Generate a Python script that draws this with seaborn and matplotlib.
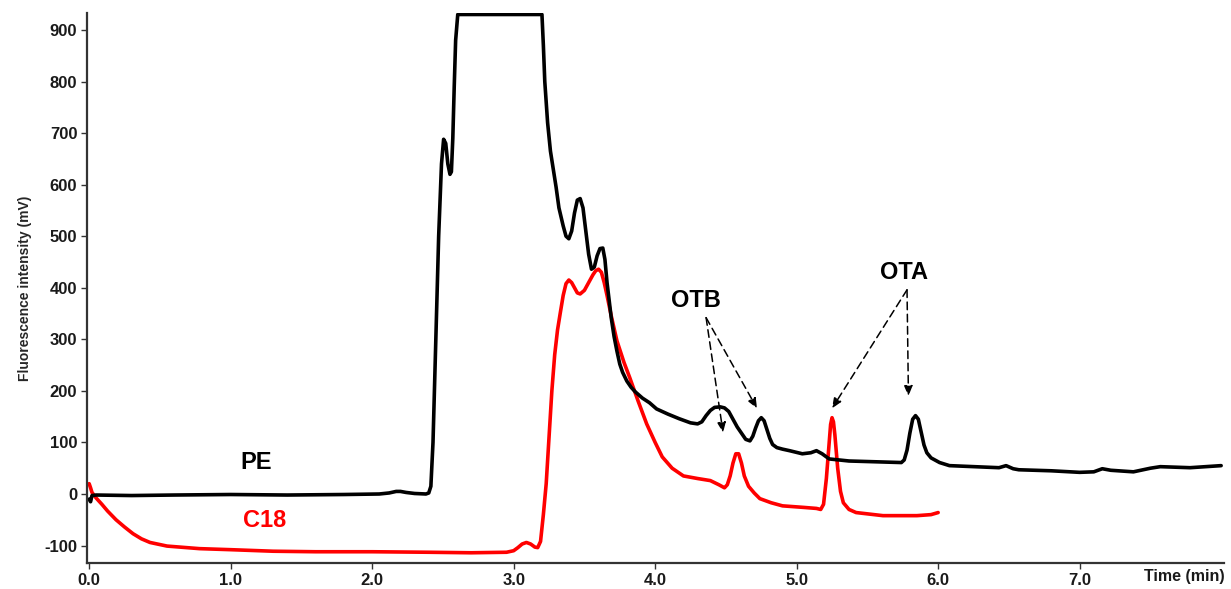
import numpy as np
import pandas as pd
import matplotlib
matplotlib.use("Agg")
import matplotlib.pyplot as plt
import seaborn as sns

# PE trace (black)
pe_time = [0.00, 0.01, 0.02, 0.05, 0.30, 0.60, 1.00, 1.40, 1.80, 2.05, 2.12, 2.17, 2.20, 2.24,
           2.30, 2.38, 2.40, 2.415, 2.43, 2.45, 2.47, 2.49, 2.505, 2.52, 2.535, 2.55, 2.56,
           2.57, 2.58, 2.59, 2.605, 3.20, 3.21, 3.22, 3.24, 3.26, 3.28, 3.30, 3.32, 3.35,
           3.37, 3.39, 3.41, 3.43, 3.45, 3.47, 3.49, 3.51, 3.53, 3.55, 3.57, 3.59, 3.61,
           3.63, 3.645, 3.66, 3.69, 3.71, 3.73, 3.75, 3.77, 3.80, 3.83, 3.86, 3.91, 3.96,
           4.01, 4.09, 4.17, 4.25, 4.30, 4.33, 4.36, 4.39, 4.42, 4.46, 4.49, 4.52, 4.55,
           4.58, 4.61, 4.64, 4.67, 4.69, 4.71, 4.73, 4.75, 4.77, 4.79, 4.81, 4.83, 4.86,
           4.90, 4.95, 5.04, 5.10, 5.14, 5.18, 5.23, 5.30, 5.37, 5.50, 5.62, 5.74, 5.76,
           5.78, 5.80, 5.82, 5.84, 5.86, 5.88, 5.90, 5.92, 5.95, 6.01, 6.08, 6.25, 6.43,
           6.48, 6.53, 6.57, 6.80, 7.00, 7.10, 7.16, 7.22, 7.38, 7.50, 7.57, 7.78, 8.00]
pe_signal = [-10, -15, -3, -2, -3, -2, -1, -2, -1, 0, 2, 5, 5, 3,
             1, 0, 2, 15, 100, 300, 500, 640, 688, 680, 640, 620, 625,
             690, 790, 880, 930, 930, 870, 800, 720, 665, 630, 595, 555, 520,
             500, 495, 510, 545, 570, 573, 555, 510, 465, 436, 440, 462, 476,
             477, 455, 410, 341, 305, 277, 252, 236, 219, 207, 198, 186, 177,
             165, 155, 146, 138, 136, 140, 152, 162, 168, 169, 167, 160, 145,
             130, 118, 106, 103, 112, 128, 142, 148, 142, 125, 108, 96, 90,
             87, 84, 78, 80, 84, 78, 68, 66, 64, 63, 62, 61, 66,
             85, 118, 145, 152, 145, 120, 95, 80, 70, 61, 55, 53, 51,
             55, 49, 47, 45, 42, 43, 49, 46, 43, 50, 53, 51, 55]

# C18 trace (red)
c18_time = [0.00, 0.01, 0.02, 0.05, 0.09, 0.13, 0.19, 0.25, 0.31, 0.37, 0.43, 0.55, 0.78,
            1.00, 1.30, 1.60, 2.00, 2.40, 2.70, 2.95, 3.00, 3.03, 3.06, 3.09, 3.12, 3.15,
            3.17, 3.19, 3.21, 3.23, 3.25, 3.27, 3.29, 3.31, 3.33, 3.35, 3.37, 3.39, 3.41,
            3.43, 3.45, 3.47, 3.50, 3.53, 3.56, 3.58, 3.60, 3.62, 3.64, 3.66, 3.69, 3.73,
            3.78, 3.82, 3.88, 3.94, 4.00, 4.05, 4.12, 4.20, 4.30, 4.39, 4.45, 4.49, 4.51,
            4.53, 4.55, 4.57, 4.59, 4.61, 4.63, 4.66, 4.70, 4.74, 4.82, 4.90, 5.05, 5.14,
            5.17, 5.19, 5.21, 5.23, 5.24, 5.25, 5.26, 5.27, 5.29, 5.31, 5.33, 5.37, 5.42,
            5.61, 5.85, 5.95, 6.00]
c18_signal = [20, 12, 3, -8, -20, -33, -50, -64, -77, -87, -94, -101, -106,
              -108, -111, -112, -112, -113, -114, -113, -110, -104, -97, -94, -97, -103,
              -104, -92, -40, 20, 110, 200, 270, 318, 352, 385, 408, 415, 410,
              400, 390, 388, 395, 410, 425, 433, 436, 430, 410, 385, 345, 297,
              255, 226, 180, 136, 100, 72, 50, 35, 30, 26, 18, 12, 18,
              35, 60, 78, 78, 60, 35, 15, 2, -9, -17, -23, -26, -28,
              -30, -20, 30, 100, 135, 148, 140, 115, 50, 5, -17, -30, -36,
              -42, -42, -40, -36]

x_ticks = [0, 1, 2, 3, 4, 5, 6, 7]
x_tick_labels = ["0.0", "1.0", "2.0", "3.0", "4.0", "5.0", "6.0", "7.0"]
y_ticks = [-100, 0, 100, 200, 300, 400, 500, 600, 700, 800, 900]

pe = pd.DataFrame({"time": pe_time, "signal": pe_signal})
c18 = pd.DataFrame({"time": c18_time, "signal": c18_signal})

sns.set_style("ticks")
plt.rcParams["font.family"] = ["Liberation Sans", "DejaVu Sans"]
plt.rcParams["font.weight"] = "bold"
plt.rcParams["axes.unicode_minus"] = False

fig = plt.figure(figsize=(12.31, 5.89), dpi=100)
ax = fig.add_axes([0.0707, 0.044, 0.9236, 0.934])

sns.lineplot(data=c18, x="time", y="signal", color="#ff0000", lw=2.6,
             estimator=None, sort=False, ax=ax, solid_joinstyle="round")
sns.lineplot(data=pe, x="time", y="signal", color="black", lw=2.6,
             estimator=None, sort=False, ax=ax, solid_joinstyle="round")

ax.set_xlim(-0.015, 8.02)
ax.set_ylim(-134, 933)
ax.set_xticks(x_ticks)
ax.set_xticklabels(x_tick_labels)
ax.set_yticks(y_ticks)
ax.tick_params(axis="both", labelsize=12, length=4, width=1, color="#333333", pad=3)
for lab in ax.get_xticklabels() + ax.get_yticklabels():
    lab.set_fontweight("bold")
    lab.set_color("#1a1a1a")

sns.despine(ax=ax)
for s in ["left", "bottom"]:
    ax.spines[s].set_linewidth(1.6)
    ax.spines[s].set_color("#333333")

ax.set_xlabel("")
ax.set_ylabel("Fluorescence intensity (mV)", fontsize=10, fontweight="bold", labelpad=9)
fig.text(0.995, 0.021, "Time (min)", ha="right", va="center", fontsize=11.5,
         fontweight="bold", color="#1a1a1a")

# trace labels
ax.text(1.18, 61, "PE", fontsize=17, fontweight="bold", color="black", ha="center", va="center")
ax.text(1.24, -52, "C18", fontsize=17, fontweight="bold", color="#ff0000", ha="center", va="center")
ax.text(4.29, 375, "OTB", fontsize=17, fontweight="bold", color="black", ha="center", va="center")
ax.text(5.76, 430, "OTA", fontsize=17, fontweight="bold", color="black", ha="center", va="center")

# dashed arrows to the peaks
arrow_kw = dict(arrowstyle="-|>,head_length=0.6,head_width=0.25", color="black",
                lw=1.1, linestyle=(0, (5, 3)), shrinkA=0, shrinkB=0)
ax.annotate("", xy=(4.48, 119), xytext=(4.36, 342), arrowprops=arrow_kw)
ax.annotate("", xy=(4.72, 166), xytext=(4.36, 342), arrowprops=arrow_kw)
ax.annotate("", xy=(5.25, 166), xytext=(5.78, 396), arrowprops=arrow_kw)
ax.annotate("", xy=(5.79, 190), xytext=(5.78, 396), arrowprops=arrow_kw)

plt.savefig("out.png", dpi=100)
